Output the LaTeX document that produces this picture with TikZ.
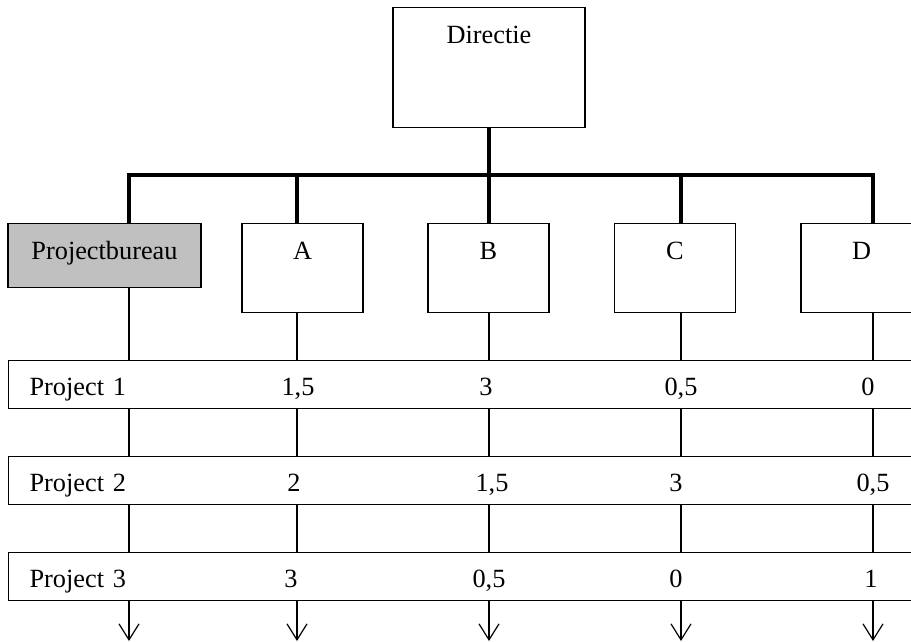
\documentclass[tikz,border=0pt]{standalone}
\usepackage{fontspec}
\setmainfont{Liberation Serif}
\usetikzlibrary{arrows.meta}
\definecolor{pbgray}{HTML}{C0C0C0}
\tikzset{
  org/.style={draw, line width=1.2pt, inner sep=0pt, text height=36pt,
    anchor=north, minimum width=#1},
  rowbox/.style={draw, line width=1.2pt, inner xsep=21pt, inner ysep=0pt,
    text height=35pt, text depth=13pt, text width=878pt, align=left,
    anchor=north west},
  val/.style={anchor=base, inner sep=0pt},
  bus/.style={line width=3.3pt},
  thin/.style={line width=1.2pt},
  down/.style={thin, -{Straight Barb[length=16pt,width=20pt,line width=1.2pt]}},
}
\begin{document}
\begin{tikzpicture}[x=1pt, y=-1pt, font=\fontsize{26.3}{31}\selectfont]
\path[use as bounding box] (0,0) rectangle (911,642);
\clip (0,0) rectangle (911,642);

% column positions on the bus and at the arrow ends
\foreach \i/\x in {0/129, 1/297, 2/489, 3/681, 4/873} {
  \coordinate (c\i) at (\x,175);
  \coordinate (e\i) at (\x,641);
}

% management and departments
\node[org=192pt, text depth=84pt] (dir) at (489,7) {Directie};
\node[org=193pt, text depth=28pt, fill=pbgray] (pb) at (104.5,223) {Projectbureau};
\node[org=121pt, text depth=53pt] (A) at (302.5,223) {A};
\node[org=121pt, text depth=53pt] (B) at (488.5,223) {B};
\node[org=121pt, text depth=53pt] (C) at (675,223) {C};
\node[org=121pt, text depth=53pt] (D) at (861.5,223) {D};

% project rows
\node[rowbox] (p1) at (8,360) {Project 1};
\node[rowbox] (p2) at (8,456) {Project 2};
\node[rowbox] (p3) at (8,552) {Project 3};

% hours per department
\node[val] (v11) at (298,395) {1,5};
\node[val] (v12) at (486,395) {3};
\node[val] (v13) at (681,395) {0,5};
\node[val] (v14) at (868,395) {0};
\node[val] (v21) at (294,491) {2};
\node[val] (v22) at (492,491) {1,5};
\node[val] (v23) at (676,491) {3};
\node[val] (v24) at (873,491) {0,5};
\node[val] (v31) at (291,587) {3};
\node[val] (v32) at (489,587) {0,5};
\node[val] (v33) at (676,587) {0};
\node[val] (v34) at (871,587) {1};

% hierarchy bus
\draw[bus] (dir.south) -- (dir.south |- c2);
\draw[bus] (c0 |- pb.north) -- (c0) -- (c4) -- (c4 |- D.north);
\draw[bus] (c1) -- (c1 |- A.north);
\draw[bus] (c2) -- (c2 |- B.north);
\draw[bus] (c3) -- (c3 |- C.north);

% vertical lines through the projects
\foreach \i/\u in {0/pb, 1/A, 2/B, 3/C, 4/D} {
  \draw[thin] (c\i |- \u.south) -- (c\i |- p1.north);
  \draw[thin] (c\i |- p1.south) -- (c\i |- p2.north);
  \draw[thin] (c\i |- p2.south) -- (c\i |- p3.north);
  \draw[down] (c\i |- p3.south) -- (e\i);
}
\end{tikzpicture}
\end{document}
